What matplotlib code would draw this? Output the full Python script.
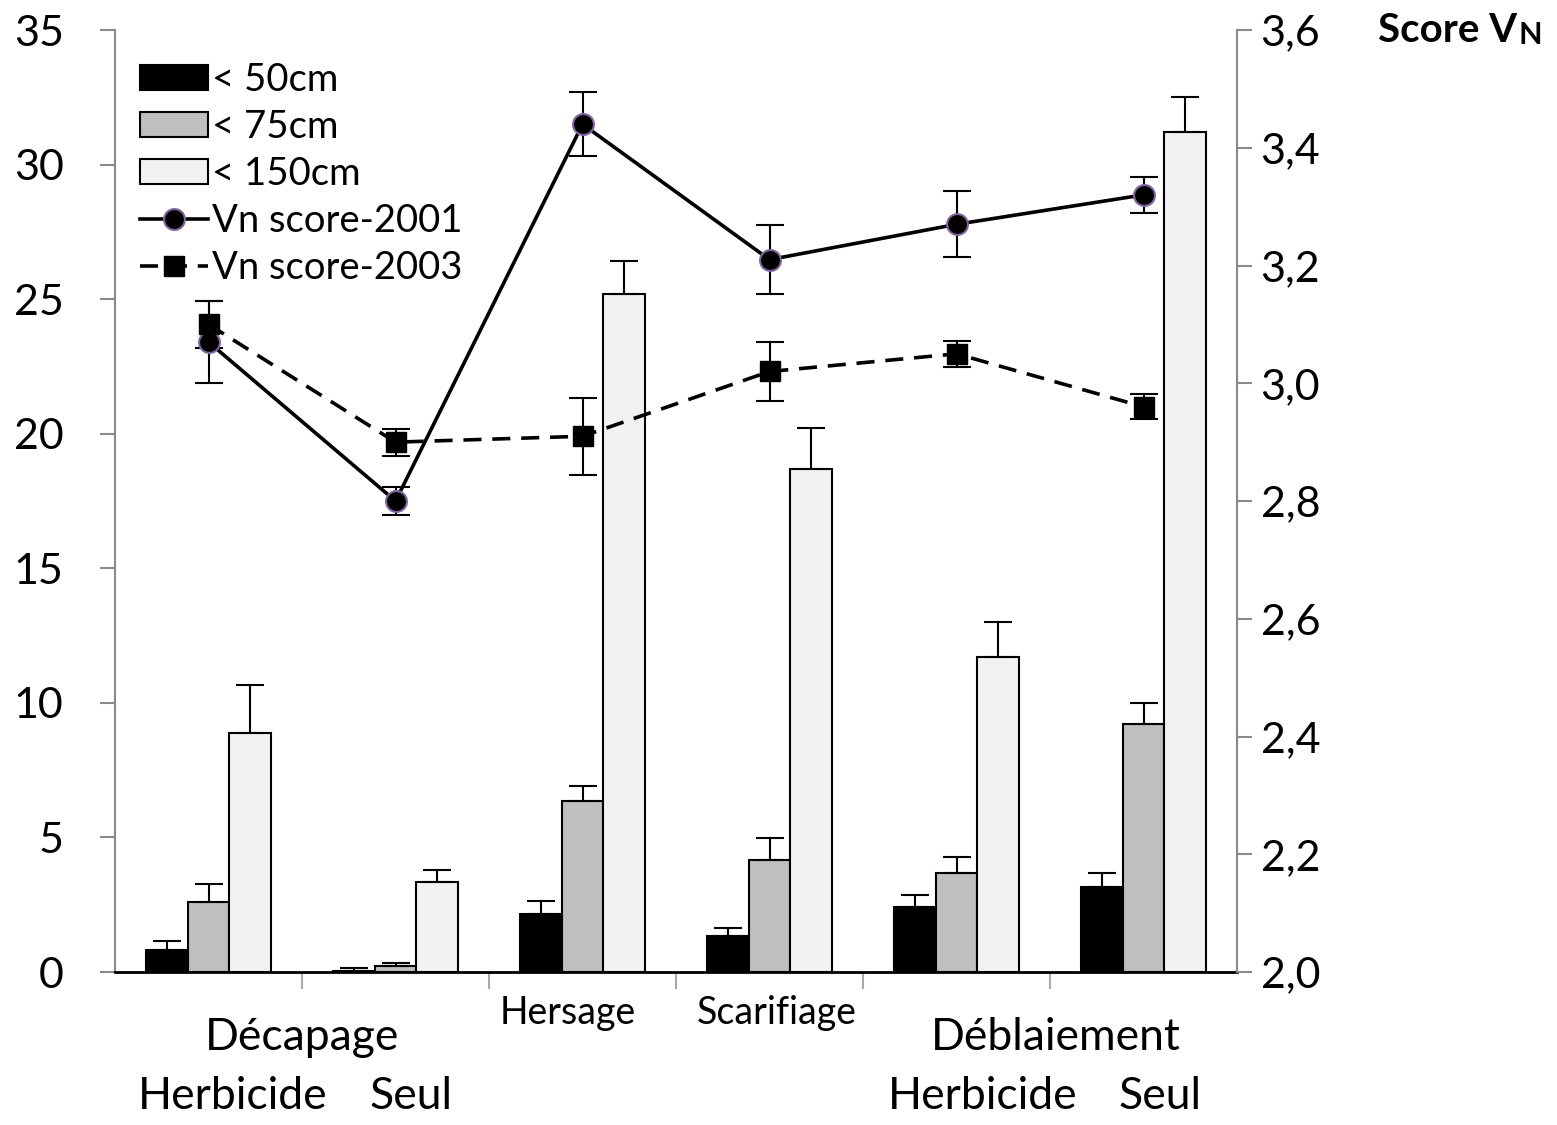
import numpy as np
import matplotlib.pyplot as plt

plt.rcParams['font.family'] = ['Lato', 'DejaVu Sans']

# hauteur des rejets par traitement (axe gauche) et score Vn (axe droit)
traitements = ['Décapage Herbicide', 'Décapage Seul', 'Hersage', 'Scarifiage',
               'Déblaiement Herbicide', 'Déblaiement Seul']
h50 = [0.82, 0.05, 2.17, 1.34, 2.42, 3.16]
h50_err = [0.34, 0.10, 0.47, 0.29, 0.44, 0.52]
h75 = [2.61, 0.24, 6.35, 4.16, 3.68, 9.2]
h75_err = [0.65, 0.11, 0.56, 0.82, 0.59, 0.8]
h150 = [8.88, 3.33, 25.2, 18.7, 11.7, 31.2]
h150_err = [1.78, 0.45, 1.2, 1.5, 1.3, 1.3]
vn2001 = [3.07, 2.80, 3.44, 3.21, 3.27, 3.32]
vn2001_err = [0.07, 0.023, 0.054, 0.058, 0.056, 0.03]
vn2003 = [3.10, 2.90, 2.91, 3.02, 3.05, 2.96]
vn2003_err = [0.04, 0.023, 0.065, 0.05, 0.022, 0.021]

left_ticks = [0, 5, 10, 15, 20, 25, 30, 35]
right_ticks = [2.0, 2.2, 2.4, 2.6, 2.8, 3.0, 3.2, 3.4, 3.6]
right_labels = ['2,0', '2,2', '2,4', '2,6', '2,8', '3,0', '3,2', '3,4', '3,6']

x = np.arange(len(traitements))
w = 0.222
grey = '#898989'

fig = plt.figure(figsize=(15.57, 11.25), dpi=100)
ax = fig.add_axes([0.0739, 0.136, 0.7206, 0.8373])

ekw = dict(elinewidth=1.5, capsize=10, capthick=1.5, ecolor='black')
b1 = ax.bar(x - w, h50, w, color='black', edgecolor='black', lw=1.5,
            yerr=[np.zeros(6), h50_err], error_kw=ekw, label='< 50cm')
b2 = ax.bar(x, h75, w, color='#bfbfbf', edgecolor='black', lw=1.5,
            yerr=[np.zeros(6), h75_err], error_kw=ekw, label='< 75cm')
b3 = ax.bar(x + w, h150, w, color='#f2f2f2', edgecolor='black', lw=1.5,
            yerr=[np.zeros(6), h150_err], error_kw=ekw, label='< 150cm')

ax.set_xlim(-0.5, 5.5)
ax.set_ylim(0, 35)
ax.set_yticks(left_ticks)
ax.set_xticks(np.arange(0.5, 5, 1))
ax.set_xticklabels([])
ax.tick_params(axis='y', labelsize=31, length=11, width=1.5, color=grey, pad=26)
ax.tick_params(axis='x', length=12, width=1.5, color='#aaaaaa')
for s in ['top', 'right']:
    ax.spines[s].set_visible(False)
ax.spines['left'].set_color(grey)
ax.spines['left'].set_linewidth(1.5)
ax.spines['bottom'].set_color('black')
ax.spines['bottom'].set_linewidth(2)

ax2 = ax.twinx()
ax2.set_ylim(2.0, 3.6)
ax2.set_yticks(right_ticks)
ax2.set_yticklabels(right_labels)
ax2.tick_params(axis='y', labelsize=31, length=11, width=1.5, color=grey, pad=6)
for s in ['top', 'left', 'bottom']:
    ax2.spines[s].set_visible(False)
ax2.spines['right'].set_color(grey)
ax2.spines['right'].set_linewidth(1.5)

ax2.errorbar(x, vn2001, yerr=vn2001_err, fmt='none', **ekw)
ax2.errorbar(x, vn2003, yerr=vn2003_err, fmt='none', **ekw)
l1, = ax2.plot(x, vn2001, '-', color='black', lw=2.6, marker='o', ms=15,
               mfc='black', mec='#7f64a0', mew=1.5, label='Vn score-2001')
l2, = ax2.plot(x, vn2003, color='black', lw=2.6, ls=(0, (5, 3)), marker='s',
               ms=14, mfc='black', mec='black', label='Vn score-2003')

ax2.legend(handles=[b1, b2, b3, l1, l2], loc='upper left',
           bbox_to_anchor=(0.022, 0.966), frameon=False, fontsize=27.5,
           handlelength=1.8, handleheight=0.62, handletextpad=0.1,
           labelspacing=0.29, borderpad=0, borderaxespad=0)

# étiquettes des traitements sur deux niveaux
tr = ax.get_xaxis_transform()
ax.text(0.5, -0.07, 'Décapage', transform=tr, ha='center', va='center', fontsize=32)
ax.text(0.13, -0.132, 'Herbicide', transform=tr, ha='center', va='center', fontsize=32)
ax.text(1.08, -0.132, 'Seul', transform=tr, ha='center', va='center', fontsize=32)
ax.text(1.92, -0.043, 'Hersage', transform=tr, ha='center', va='center', fontsize=27)
ax.text(3.04, -0.043, 'Scarifiage', transform=tr, ha='center', va='center', fontsize=27)
ax.text(4.53, -0.07, 'Déblaiement', transform=tr, ha='center', va='center', fontsize=32)
ax.text(4.14, -0.132, 'Herbicide', transform=tr, ha='center', va='center', fontsize=32)
ax.text(5.09, -0.132, 'Seul', transform=tr, ha='center', va='center', fontsize=32)

t1 = fig.text(0.885, 0.973, 'Score V', ha='left', va='center', fontsize=29,
              fontweight='bold')
ax2.annotate('N', xy=(1, 0), xycoords=t1, xytext=(1, 0),
             textcoords='offset points', ha='left', va='bottom',
             fontsize=22, fontweight='bold')

fig.savefig('out.png')
